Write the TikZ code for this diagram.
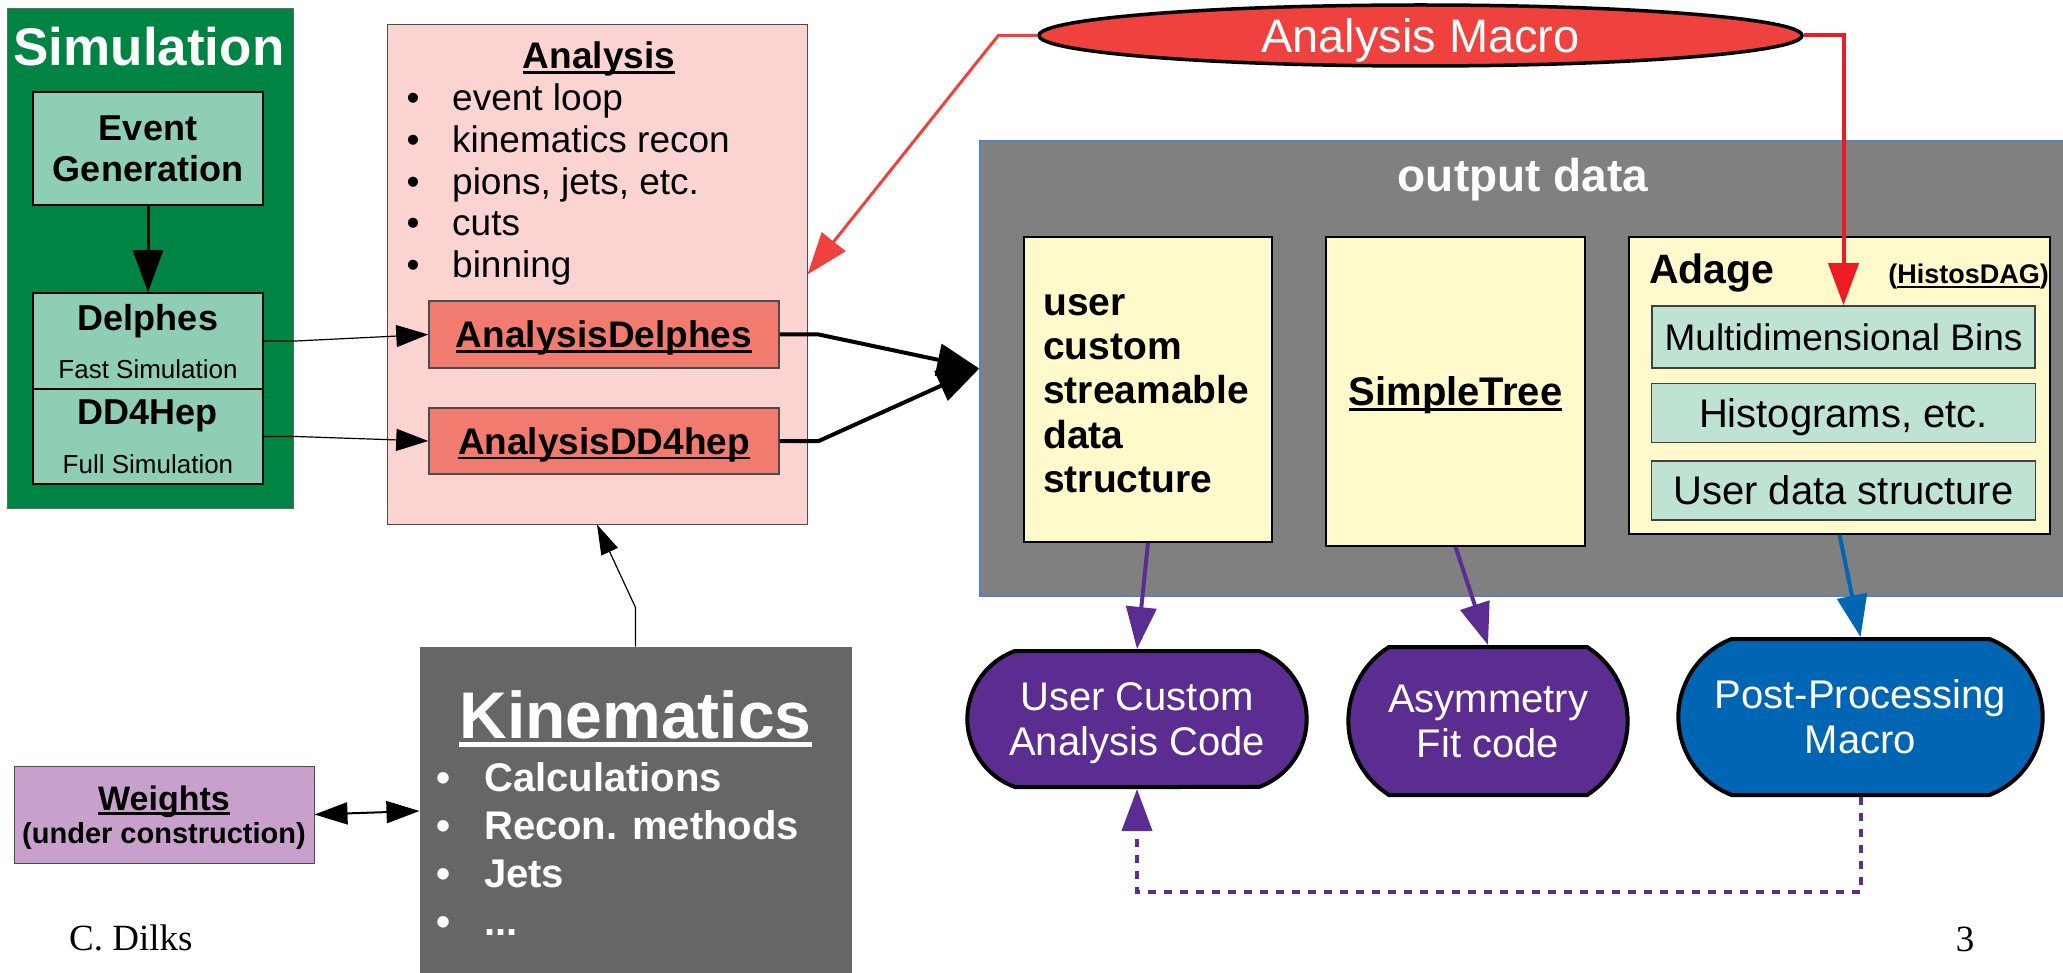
\documentclass[tikz,border=0pt]{standalone}
\usepackage{fontspec}
\setmainfont{Liberation Sans}
\newfontfamily\slidefont{Liberation Serif}
\usepackage{tikz}
\usetikzlibrary{arrows.meta,positioning,shapes.geometric,shapes.misc}
\definecolor{simgreen}{HTML}{008443}
\definecolor{mint}{HTML}{8ECEB4}
\definecolor{palemint}{HTML}{BEE3D3}
\definecolor{rosebg}{HTML}{FBD4D2}
\definecolor{salmon}{HTML}{F17B6F}
\definecolor{macrored}{HTML}{EF413D}
\definecolor{linkred}{HTML}{ED1C24}
\definecolor{outgray}{HTML}{808080}
\definecolor{kingray}{HTML}{666666}
\definecolor{paleyellow}{HTML}{FFF9CC}
\definecolor{codepurple}{HTML}{5C2D91}
\definecolor{procblue}{HTML}{0066B3}
\definecolor{lilac}{HTML}{C8A0CC}
\definecolor{frameblue}{HTML}{5B7FBF}
\newcommand{\ulbox}[1]{\setbox0=\hbox{#1}\rlap{\rule[-0.13em]{\wd0}{0.07em}}\box0}
\tikzset{
  panel/.style={rectangle,inner sep=0pt,line width=1pt},
  genbox/.style={rectangle,draw=black,fill=mint,line width=1.5pt,minimum width=230pt,
    align=center,text depth=0pt,font=\fontsize{36}{41.5}\selectfont\bfseries},
  subana/.style={rectangle,draw=black!70,fill=salmon,line width=1.5pt,minimum width=350pt,
    minimum height=67pt,text depth=0pt,font=\fontsize{37}{44}\selectfont\bfseries},
  datbox/.style={rectangle,draw=black,fill=paleyellow,line width=1.5pt},
  binbox/.style={rectangle,draw=black!75,fill=palemint,line width=1.5pt,minimum width=384pt,
    minimum height=59pt,text depth=0pt,font=\fontsize{40}{46}\selectfont},
  codebox/.style={rounded rectangle,draw=black,line width=4pt,fill=#1,text=white,
    align=center,text depth=0pt,font=\fontsize{40}{45}\selectfont},
  bullets/.style={anchor=north west,inner sep=0pt,align=left},
  arrow/.style={-{Triangle[length=42pt,width=30pt]},line width=4pt},
  thinarrow/.style={-{Triangle[length=32pt,width=22pt]},line width=1.2pt}
}
\begin{document}
\begin{tikzpicture}[x=1pt,y=-1pt]
\useasboundingbox (0,0) rectangle (2063,973);
% simulation column
\node[panel,draw=black!60,fill=simgreen,minimum width=286pt,minimum height=499pt] (sim) at (150,258.5) {};
\node[text=white,font=\fontsize{53}{60}\selectfont\bfseries,anchor=base,inner sep=0pt] (simtitle) at (149,65.5) {Simulation};
\node[genbox,minimum height=113pt] (evgen) at (148,148.5) {Event\\Generation};
\node[genbox,minimum height=96pt,font=\fontsize{36}{48}\selectfont\bfseries] (delphes) at (148,341)
  {Delphes\\{\fontsize{26}{30}\selectfont\mdseries Fast Simulation}};
\node[genbox,minimum height=95pt,font=\fontsize{36}{49}\selectfont\bfseries,below=-1.5pt of delphes] (dd4hep)
  {DD4Hep\\{\fontsize{26}{30}\selectfont\mdseries Full Simulation}};
% analysis
\node[panel,draw=black!70,fill=rosebg,minimum width=420pt,minimum height=499pt] (analysis) at (597,274.5) {};
\node[font=\fontsize{37}{44}\selectfont\bfseries,anchor=base,inner sep=0pt] (anatitle) at (599,69) {\ulbox{Analysis}};
\node[bullets,font=\fontsize{37}{41.75}\selectfont] (analist) at (406.5,83.5)
  {\makebox[45.5pt][l]{\textbullet}event loop\\
   \makebox[45.5pt][l]{\textbullet}kinematics recon\\
   \makebox[45.5pt][l]{\textbullet}pions, jets, etc.\\
   \makebox[45.5pt][l]{\textbullet}cuts\\
   \makebox[45.5pt][l]{\textbullet}binning};
\node[subana] (adelphes) at (604,334.5) {\ulbox{AnalysisDelphes}};
\node[subana,minimum height=66pt] (add4hep) at (604,441) {\ulbox{AnalysisDD4hep}};
% macro and output data
\node[ellipse,draw=black,line width=3.5pt,fill=macrored,text=white,minimum width=763pt,minimum height=61pt,
  inner sep=0pt,text depth=0pt,font=\fontsize{47}{54}\selectfont] (macro) at (1420.5,35.5) {Analysis Macro};
\node[panel,draw=frameblue,line width=1.5pt,fill=outgray,minimum width=1090pt,minimum height=455pt] (output) at (1525,368.5) {};
\node[text=white,font=\fontsize{46}{50}\selectfont\bfseries,anchor=base,inner sep=0pt] (outtitle) at (1523,192) {output data};
\node[datbox,minimum width=248pt,minimum height=305pt] (ucustom) at (1148,389.5) {};
\node[bullets,font=\fontsize{39}{44.3}\selectfont\bfseries] (ucustomtext) at (1043,294)
  {user\\custom\\streamable\\data\\structure};
\node[datbox,minimum width=259pt,minimum height=309pt,text depth=0pt,font=\fontsize{40}{46}\selectfont\bfseries] (simpletree)
  at (1455.5,391.5) {\ulbox{SimpleTree}};
\node[datbox,minimum width=421pt,minimum height=297pt] (adage) at (1839.5,385.5) {};
\node[font=\fontsize{41}{46}\selectfont\bfseries,anchor=base west,inner sep=0pt] (adagetitle) at (1649,284) {Adage};
\node[font=\fontsize{27}{30}\selectfont\bfseries,anchor=base east,inner sep=0pt] (histosdag) at (2049,284) {(\ulbox{HistosDAG})};
\node[binbox,minimum width=383pt,minimum height=62pt,font=\fontsize{37}{42}\selectfont] (bins) at (1843.5,337) {Multidimensional Bins};
\node[binbox,below=14pt of bins] (histos) {Histograms, etc.};
\node[binbox,below=17pt of histos] (udata) {User data structure};
% code boxes
\node[codebox=codepurple,minimum width=346pt,minimum height=136pt,rounded rectangle arc length=140] (ucode) at (1137,719)
  {User Custom\\Analysis Code};
\node[codebox=codepurple,minimum width=286pt,minimum height=148pt,rounded rectangle arc length=115] (asym) at (1488,721)
  {Asymmetry\\Fit code};
\node[codebox=procblue,minimum width=371pt,minimum height=156pt,rounded rectangle arc length=137] (post) at (1860.5,717)
  {Post-Processing\\Macro};
% kinematics and weights
\node[panel,draw=black!60,fill=kingray,minimum width=431pt,minimum height=328pt] (kin) at (635.5,811) {};
\node[text=white,font=\fontsize{66}{70}\selectfont\bfseries,anchor=base,inner sep=0pt] (kintitle) at (635.5,738) {\ulbox{Kinematics}};
\node[bullets,text=white,font=\fontsize{40}{48}\selectfont\bfseries] (kinlist) at (436.6,762)
  {\makebox[47.4pt][l]{\textbullet}Calculations\\
   \makebox[47.4pt][l]{\textbullet}Recon. methods\\
   \makebox[47.4pt][l]{\textbullet}Jets\\
   \makebox[47.4pt][l]{\textbullet}...};
\node[panel,draw=black!70,fill=lilac,minimum width=300pt,minimum height=97pt,align=center,text depth=0pt,
  font=\fontsize{34}{33}\selectfont\bfseries] (weights) at (164,814.5)
  {\ulbox{Weights}\\{\fontsize{29}{33}\selectfont(under construction)}};
% footer
\node[font=\slidefont\fontsize{37}{40}\selectfont,anchor=base west,inner sep=0pt] (author) at (69,950) {C. Dilks};
\node[font=\slidefont\fontsize{37}{40}\selectfont,anchor=base,inner sep=0pt] (pagenum) at (1965,951) {3};
% connectors
\draw[arrow,line width=3pt] (evgen) -- (delphes);
\draw[thinarrow] (delphes.east) -- ++(32,0) -- (adelphes.west);
\draw[thinarrow] (dd4hep.east) -- ++(32,0) -- (add4hep.west);
\draw[arrow,-{Triangle[length=42pt,width=32pt]}] (adelphes.east) -- ++(39,0) -- (output.west);
\draw[arrow,-{Triangle[length=42pt,width=32pt]}] (add4hep.east) -- ++(39,0) -- (output.west);
\draw[arrow,color=macrored,line width=3pt] (macro.west) -- ++(-39,0) -- (analysis.east);
\draw[arrow,color=linkred] (macro.east) -| (bins.north);
\draw[thinarrow,-{Triangle[length=30pt,width=18pt]}] (kin.north) -- ++(0,-39) -- (analysis.south);
\draw[{Triangle[length=33pt,width=22pt]}-{Triangle[length=33pt,width=22pt]},line width=2pt] (weights.east) -- (kin.west);
\draw[arrow,color=codepurple] (ucustom.south) -- (ucode.north);
\draw[arrow,color=codepurple] (simpletree.south) -- (asym.north);
\draw[arrow,color=procblue] (adage.south) -- (post.north);
\draw[arrow,color=codepurple,dash pattern=on 8pt off 8pt] (post.south) -- ++(0,95) -| (ucode.south);
\end{tikzpicture}
\end{document}
